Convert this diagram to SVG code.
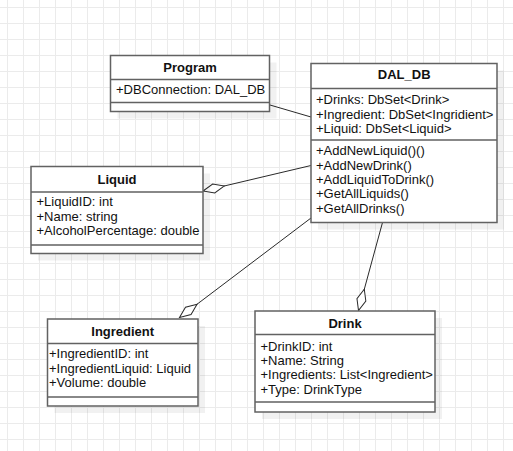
<svg xmlns="http://www.w3.org/2000/svg" width="513" height="451" viewBox="0 0 513 451">
<style>
.box{fill:#fff;stroke:#626262;stroke-width:1.5}
.sep{stroke:#626262;stroke-width:1.5;fill:none}
.shadow{fill:#000;fill-opacity:0.055}
.title{font-family:"Liberation Sans",Arial,sans-serif;font-size:13px;font-weight:bold;fill:#111;text-anchor:middle}
.attr{font-family:"Liberation Sans",Arial,sans-serif;font-size:13px;fill:#111}
.conn{stroke:#2a2a2a;stroke-width:1;fill:none}
</style>
<defs>
<pattern id="grid" patternUnits="userSpaceOnUse" x="0" y="0" width="16" height="16">
<path d="M7.5 0 V16 M0 7.5 H16" stroke="#ebebeb" stroke-width="1" fill="none"/>
</pattern>
<marker id="diamond" markerUnits="userSpaceOnUse" markerWidth="26" markerHeight="12" viewBox="-1 -6 25 12" refX="22" refY="0" orient="auto">
<path d="M0 0 L11 -4.6 L22 0 L11 4.6 Z" fill="#fff" stroke="#2a2a2a" stroke-width="1"/>
</marker>
</defs>
<rect width="513" height="451" fill="#fff"/>
<rect width="513" height="451" fill="url(#grid)"/>

<g id="connectors">
<path class="conn" d="M270 105 L311 117"/>
<path class="conn" d="M311 165.5 L203 191" marker-end="url(#diamond)"/>
<path class="conn" d="M311 218 L179.5 317.5" marker-end="url(#diamond)"/>
<path class="conn" d="M382.5 222.5 L358.5 310.5" marker-end="url(#diamond)"/>
</g>

<g id="Program">
<rect class="shadow" x="117.5" y="62.5" width="159" height="56"/>
<rect class="box" x="110.5" y="55.5" width="159" height="56"/>
<path class="sep" d="M110.5 79.5 H269.5 M110.5 102.5 H269.5"/>
<text class="title" x="190" y="71.7">Program</text>
<text class="attr" x="116" y="94.3">+DBConnection: DAL_DB</text>
</g>

<g id="DAL_DB">
<rect class="shadow" x="318" y="70.5" width="186" height="159"/>
<rect class="box" x="311" y="63.5" width="186" height="159"/>
<path class="sep" d="M311 88.5 H497 M311 140 H497"/>
<text class="title" x="404.2" y="79.3">DAL_DB</text>
<text class="attr" x="316" y="104.3">+Drinks: DbSet&lt;Drink&gt;</text>
<text class="attr" x="316" y="118.7">+Ingredient: DbSet&lt;Ingridient&gt;</text>
<text class="attr" x="316" y="133">+Liquid: DbSet&lt;Liquid&gt;</text>
<text class="attr" x="316" y="155.3">+AddNewLiquid()()</text>
<text class="attr" x="316" y="169.6">+AddNewDrink()</text>
<text class="attr" x="316" y="184">+AddLiquidToDrink()</text>
<text class="attr" x="316" y="198.3">+GetAllLiquids()</text>
<text class="attr" x="316" y="212.7">+GetAllDrinks()</text>
</g>

<g id="Liquid">
<rect class="shadow" x="38" y="173.5" width="172" height="87"/>
<rect class="box" x="31" y="166.5" width="172" height="87"/>
<path class="sep" d="M31 192 H203 M31 245 H203"/>
<text class="title" x="117" y="184">Liquid</text>
<text class="attr" x="36.5" y="206.3">+LiquidID: int</text>
<text class="attr" x="36.5" y="220.8">+Name: string</text>
<text class="attr" x="36.5" y="235.3">+AlcoholPercentage: double</text>
</g>

<g id="Ingredient">
<rect class="shadow" x="54.5" y="326" width="150.5" height="87"/>
<rect class="box" x="47.5" y="319" width="150.5" height="87"/>
<path class="sep" d="M47.5 343.5 H198 M47.5 397 H198"/>
<text class="title" x="122.7" y="336">Ingredient</text>
<text class="attr" x="49" y="358.3">+IngredientID: int</text>
<text class="attr" x="49" y="372.8">+IngredientLiquid: Liquid</text>
<text class="attr" x="49" y="387.3">+Volume: double</text>
</g>

<g id="Drink">
<rect class="shadow" x="262" y="318" width="180" height="101"/>
<rect class="box" x="255" y="311" width="180" height="101"/>
<path class="sep" d="M255 334.5 H435 M255 402 H435"/>
<text class="title" x="345" y="327.7">Drink</text>
<text class="attr" x="260.5" y="350.7">+DrinkID: int</text>
<text class="attr" x="260.5" y="365">+Name: String</text>
<text class="attr" x="260.5" y="379.4">+Ingredients: List&lt;Ingredient&gt;</text>
<text class="attr" x="260.5" y="393.8">+Type: DrinkType</text>
</g>
</svg>
